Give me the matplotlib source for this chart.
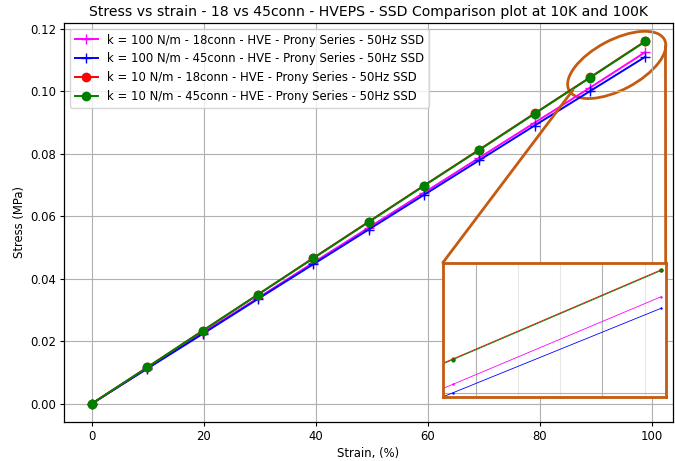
import numpy as np
import matplotlib
matplotlib.use("Agg")
import matplotlib.pyplot as plt
from matplotlib.patches import Ellipse, ConnectionPatch
from matplotlib.transforms import ScaledTranslation
from matplotlib.ticker import MultipleLocator

# strain (%) and stress (MPa)
strain = [0, 9.88, 19.76, 29.64, 39.52, 49.4, 59.28, 69.16, 79.04, 88.92, 98.8]
stress_100_18 = [0, 0.0113, 0.0226, 0.0338, 0.0451, 0.0563, 0.0675, 0.0787, 0.0899, 0.1011, 0.1125]
stress_100_45 = [0, 0.0112, 0.0223, 0.0335, 0.0446, 0.0557, 0.0668, 0.0779, 0.0890, 0.1000, 0.1110]
stress_10_18 = [0, 0.0116, 0.0233, 0.0349, 0.0466, 0.0582, 0.0698, 0.0813, 0.0929, 0.1044, 0.1160]
stress_10_45 = [0, 0.0116, 0.0233, 0.0349, 0.0465, 0.0581, 0.0697, 0.0812, 0.0928, 0.1043, 0.1159]

labels = [
    "k = 100 N/m - 18conn - HVE - Prony Series - 50Hz SSD",
    "k = 100 N/m - 45conn - HVE - Prony Series - 50Hz SSD",
    "k = 10 N/m - 18conn - HVE - Prony Series - 50Hz SSD",
    "k = 10 N/m - 45conn - HVE - Prony Series - 50Hz SSD",
]
series = [stress_100_18, stress_100_45, stress_10_18, stress_10_45]
colors = ["magenta", "blue", "red", "green"]
markers = ["+", "+", "o", "o"]

orange = "#c55a11"

plt.rcParams["font.size"] = 8.4
plt.rcParams["axes.linewidth"] = 0.9
for a in ("xtick", "ytick"):
    plt.rcParams[a + ".major.size"] = 3
    plt.rcParams[a + ".major.pad"] = 3
plt.rcParams["axes.labelpad"] = 3

fig = plt.figure(figsize=(6.75, 4.61), dpi=100)
ax = fig.add_axes([0.095, 0.085, 0.902, 0.865])

for y, c, m, lab in zip(series, colors, markers, labels):
    ms = 7 if m == "+" else 6
    ax.plot(strain, y, color=c, marker=m, markersize=ms, linewidth=1.4, label=lab)

ax.set_title("Stress vs strain - 18 vs 45conn - HVEPS - SSD Comparison plot at 10K and 100K",
             fontsize=10.1, pad=5)
ax.set_xlabel("Strain, (%)")
ax.set_ylabel("Stress (MPa)")
ax.grid(True)
ax.legend(loc="upper left", fontsize=8.4)

# zoom inset
axins = ax.inset_axes([0.622, 0.063, 0.366, 0.336])
for y, c, m in zip(series, colors, markers):
    axins.plot(strain, y, color=c, marker=m, markersize=2, linewidth=0.6)
axins.set_xlim(88.45, 99.0)
axins.set_ylim(0.0995, 0.1169)
axins.xaxis.set_major_locator(MultipleLocator(6))
axins.xaxis.set_minor_locator(MultipleLocator(2))
axins.yaxis.set_major_locator(MultipleLocator(0.05))
axins.grid(True, which="major")
axins.grid(True, which="minor", alpha=0.3)
axins.tick_params(which="both", length=0, labelleft=False, labelbottom=False)
for s in axins.spines.values():
    s.set_color(orange)
    s.set_linewidth(2)

# ellipse marking the zoomed region
ell_tr = fig.dpi_scale_trans + ScaledTranslation(93.7, 0.1084, ax.transData)
ax.add_patch(Ellipse((0, 0), 1.08, 0.50, angle=28, fill=False,
                     edgecolor=orange, linewidth=2, transform=ell_tr, clip_on=False))

for xyA, xyB in [((0, 1), (85.9, 0.1004)), ((1, 1), (102.4, 0.1145))]:
    con = ConnectionPatch(xyA=xyA, coordsA=axins.transAxes, xyB=xyB, coordsB=ax.transData,
                          color=orange, linewidth=2)
    fig.add_artist(con)

fig.savefig("out.png", dpi=100)
